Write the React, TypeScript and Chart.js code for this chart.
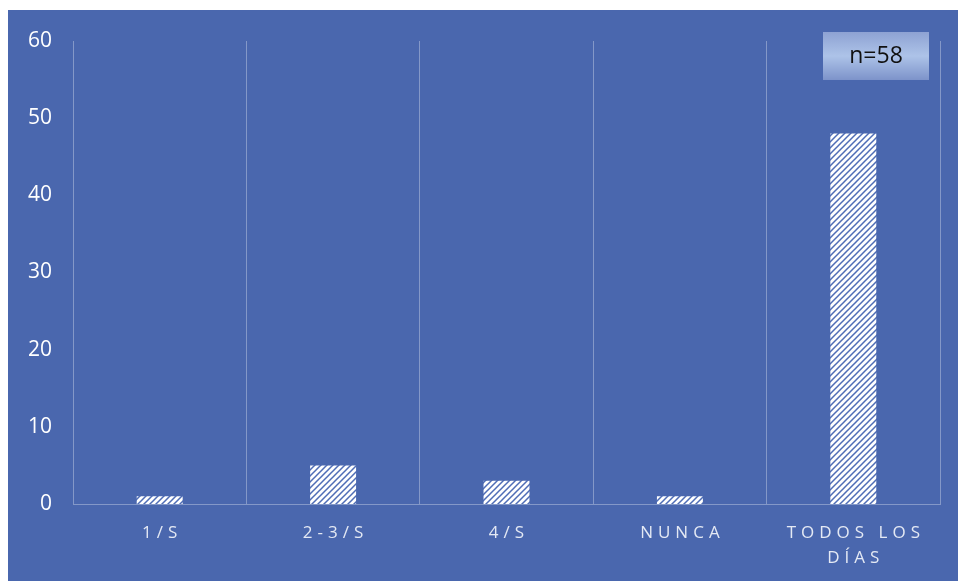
import React, { useEffect, useRef } from 'react';
import { Chart, registerables, CategoryScale } from 'chart.js';

Chart.register(...registerables);

const categories: (string | string[])[] = ['1/S', '2-3/S', '4/S', 'NUNCA', ['TODOS LOS', 'DÍAS']];
const values: number[] = [1, 5, 3, 1, 48];
const yMin = 0;
const yMax = 60;
const yStep = 10;
const noteText = 'n=58';

const BG = '#4a67ae';
const GRID = 'rgba(255,255,255,0.32)';
const LETTER_SPACING = 5;

class SpacedCategoryScale extends (CategoryScale as any) {
  static id = 'spacedCategory';
  static defaults = (CategoryScale as any).defaults;
  drawLabels(chartArea: any) {
    const ctx = (this as any).ctx as CanvasRenderingContext2D;
    ctx.save();
    (ctx as any).letterSpacing = LETTER_SPACING + 'px';
    ctx.translate(LETTER_SPACING / 2, 0);
    super.drawLabels(chartArea);
    ctx.restore();
  }
}
Chart.register(SpacedCategoryScale as any);

function makePattern(ctx: CanvasRenderingContext2D): CanvasPattern | string {
  const size = 6;
  const c = document.createElement('canvas');
  c.width = size;
  c.height = size;
  const p = c.getContext('2d');
  if (!p) return '#ffffff';
  p.fillStyle = '#ffffff';
  p.fillRect(0, 0, size, size);
  p.strokeStyle = '#4f6db6';
  p.lineWidth = 1.5;
  p.beginPath();
  p.moveTo(-2, size + 2);
  p.lineTo(size + 2, -2);
  p.moveTo(-2, 2);
  p.lineTo(2, -2);
  p.moveTo(size - 2, size + 2);
  p.lineTo(size + 2, size - 2);
  p.stroke();
  return ctx.createPattern(c, 'repeat') || '#ffffff';
}

const noteBox = {
  id: 'noteBox',
  afterDraw(chart: any) {
    const { ctx, chartArea } = chart;
    const w = 106;
    const h = 48;
    const x = chartArea.right - 11 - w;
    const y = chartArea.top - 9;
    ctx.save();
    const g = ctx.createLinearGradient(0, y, 0, y + h);
    g.addColorStop(0, '#8ea2d3');
    g.addColorStop(0.5, '#adc3e8');
    g.addColorStop(1, '#7d93ca');
    ctx.fillStyle = g;
    ctx.fillRect(x, y, w, h);
    ctx.fillStyle = '#111111';
    ctx.font = '23px "Open Sans"';
    ctx.textAlign = 'center';
    ctx.textBaseline = 'middle';
    ctx.fillText(noteText, x + w / 2, y + h / 2);
    ctx.restore();
  },
};

export default function App() {
  const ref = useRef<HTMLCanvasElement>(null);
  useEffect(() => {
    const canvas = ref.current;
    if (!canvas) return;
    const ctx = canvas.getContext('2d')!;
    const pattern = makePattern(ctx);
    const chart = new Chart(canvas, {
      type: 'bar',
      data: {
        labels: categories as any,
        datasets: [
          {
            data: values,
            backgroundColor: pattern as any,
            borderWidth: 0,
            categoryPercentage: 1,
            barPercentage: 0.265,
          },
        ],
      },
      options: {
        animation: false,
        responsive: false,
        maintainAspectRatio: false,
        layout: { padding: { top: 31, right: 18, left: 0, bottom: 0 } },
        plugins: { legend: { display: false }, tooltip: { enabled: false } },
        scales: {
          x: {
            type: 'spacedCategory' as any,
            grid: { offset: true, color: GRID, drawTicks: false, lineWidth: 1 },
            border: { display: true, color: GRID, width: 1 },
            ticks: {
              color: '#e4e9f4',
              font: { family: '"Open Sans"', size: 17, lineHeight: 1.47 },
              padding: 17,
              maxRotation: 0,
              autoSkip: false,
            },
            afterFit: (s: any) => {
              s.height = 77;
            },
          } as any,
          y: {
            min: yMin,
            max: yMax,
            ticks: {
              stepSize: yStep,
              color: '#ffffff',
              font: { family: '"Open Sans"', size: 21 },
              padding: 13,
            },
            grid: { display: false },
            border: { display: false },
            afterFit: (s: any) => {
              s.width = 65;
            },
          },
        },
      },
      plugins: [noteBox],
    });
    return () => chart.destroy();
  }, []);
  return (
    <div style={{ position: 'absolute', left: 8, top: 10, width: 950, height: 571, background: BG }}>
      <canvas ref={ref} width={950} height={571} style={{ display: 'block' }} />
    </div>
  );
}
